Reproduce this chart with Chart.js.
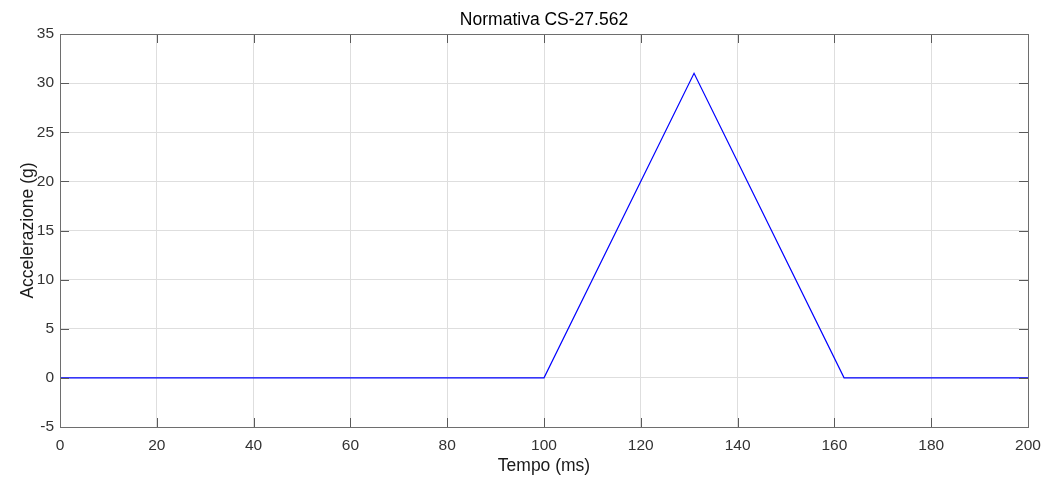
<!DOCTYPE html>
<html>
<head>
<meta charset="utf-8">
<script src="https://cdn.jsdelivr.net/npm/chart.js@4.4.1/dist/chart.umd.min.js"></script>
<style>
  html,body{margin:0;padding:0;background:#fff;}
  #wrap{width:1044px;height:477px;}
</style>
</head>
<body>
<div id="wrap"><canvas id="c" width="1044" height="477"></canvas></div>
<script>
// dati
const tempo = [0, 100, 131, 162, 200];
const accel = [0, 0, 31, 0, 0];
const xTicks = [0, 20, 40, 60, 80, 100, 120, 140, 160, 180, 200];
const yTicks = [-5, 0, 5, 10, 15, 20, 25, 30, 35];

const titolo = "Normativa CS-27.562";
const titoloX = "Tempo (ms)";
const titoloY = "Accelerazione (g)";

const FONT = "'Liberation Sans', Arial, sans-serif";

// box stile MATLAB con tacche interne + titoli
const matlabBox = {
  id: "matlabBox",
  afterDraw(chart){
    const {ctx, chartArea:a, scales} = chart;
    ctx.save();
    ctx.strokeStyle = "#5a5a5a";
    ctx.lineWidth = 1;
    ctx.beginPath();
    xTicks.forEach(v=>{
      let px = Math.round(scales.x.getPixelForValue(v))+0.5;
      ctx.moveTo(px, a.bottom); ctx.lineTo(px, a.bottom-9);
      ctx.moveTo(px, a.top); ctx.lineTo(px, a.top+9);
    });
    yTicks.forEach(v=>{
      let py = Math.round(scales.y.getPixelForValue(v))+0.5;
      ctx.moveTo(a.left, py); ctx.lineTo(a.left+9, py);
      ctx.moveTo(a.right, py); ctx.lineTo(a.right-9, py);
    });
    ctx.stroke();
    ctx.strokeStyle = "#6e6e6e";
    ctx.strokeRect(Math.round(a.left)+0.5, Math.round(a.top)+0.5, Math.round(a.right-a.left), Math.round(a.bottom-a.top));

    ctx.fillStyle = "#000";
    ctx.font = "17.5px " + FONT;
    ctx.textAlign = "center";
    ctx.textBaseline = "middle";
    ctx.fillText(titolo, (a.left+a.right)/2, 20);
    ctx.fillStyle = "#1a1a1a";
    ctx.font = "17.5px " + FONT;
    ctx.fillText(titoloX, (a.left+a.right)/2, 466);
    ctx.translate(28, (a.top+a.bottom)/2);
    ctx.rotate(-Math.PI/2);
    ctx.fillText(titoloY, 0, 0);
    ctx.restore();
  }
};

new Chart(document.getElementById("c"), {
  type: "line",
  data: {
    datasets: [{
      data: tempo.map((t,i)=>({x:t, y:accel[i]})),
      borderColor: "#0000ff",
      borderWidth: 1.2,
      pointRadius: 0,
      tension: 0,
      fill: false
    }]
  },
  plugins: [matlabBox],
  options: {
    responsive: false,
    animation: false,
    layout: {padding: {left: 0, top: 34, right: 16, bottom: 0}},
    plugins: {legend: {display: false}, tooltip: {enabled: false}, title: {display: false}},
    scales: {
      x: {
        type: "linear", min: 0, max: 200,
        afterFit: s => { s.height = 50; s.paddingLeft = 0; s.paddingRight = 0; },
        afterBuildTicks: s => { s.ticks = xTicks.map(v=>({value:v})); },
        grid: {color: "#dedede", lineWidth: 1, drawTicks: false},
        border: {display: false},
        ticks: {color: "#333333", font: {family: FONT, size: 15.5}, padding: 9, maxRotation: 0}
      },
      y: {
        type: "linear", min: -5, max: 35,
        afterFit: s => { s.width = 60; s.paddingTop = 0; s.paddingBottom = 0; },
        afterBuildTicks: s => { s.ticks = yTicks.map(v=>({value:v})); },
        grid: {color: "#dedede", lineWidth: 1, drawTicks: false},
        border: {display: false},
        ticks: {color: "#333333", font: {family: FONT, size: 15.5}, padding: 6}
      }
    }
  }
});
</script>
</body>
</html>
